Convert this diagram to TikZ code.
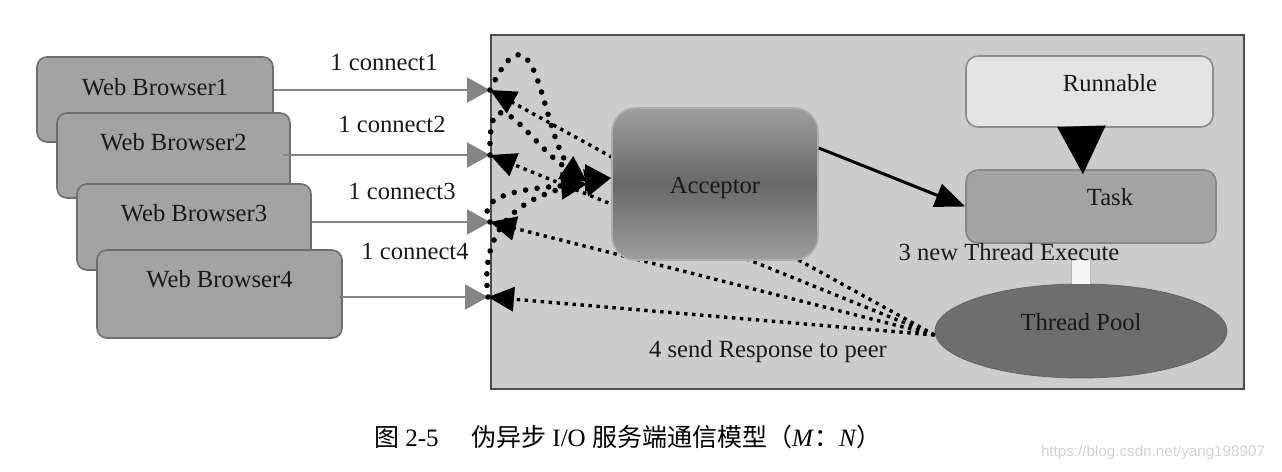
\documentclass[tikz,border=0pt]{standalone}
\usepackage{fontspec}
\setmainfont{Liberation Serif}
\newfontfamily\cjk{Noto Sans CJK SC}
\newfontfamily\wmfont{Liberation Sans}
\usepackage{tikz}
\usetikzlibrary{arrows.meta,shapes.geometric}
\definecolor{srvgray}{gray}{0.80}
\definecolor{bwgray}{gray}{0.64}
\definecolor{edgegray}{gray}{0.43}
\definecolor{acctop}{gray}{0.62}
\definecolor{accmid}{gray}{0.41}
\definecolor{runfill}{gray}{0.89}
\definecolor{taskfill}{gray}{0.64}
\definecolor{poolfill}{gray}{0.43}
\definecolor{linegray}{gray}{0.52}

\tikzset{
  lbl/.style={font=\fontsize{12.3}{14}\selectfont, text=black!90},
  browser/.style={draw=edgegray, fill=bwgray, rounded corners=5pt, line width=0.8pt},
  server/.style={draw=gray!60!black, fill=srvgray, line width=1pt},
  inbox/.style={rounded corners=6pt, line width=0.8pt},
  connect/.style={-{Triangle[length=11.5pt,width=12.5pt]}, linegray, line width=1pt},
  resp/.style={-{Triangle[length=13pt,width=12pt]}, black, line width=1.7pt, dash pattern=on 1.7pt off 2.3pt},
  fwd/.style={-{Triangle[length=13pt,width=13pt]}, black, line width=2.8pt, line cap=round, dash pattern=on 0pt off 5.8pt},
}

\begin{document}
\begin{tikzpicture}[x=0.5pt,y=-0.5pt]
\useasboundingbox (0,0) rectangle (1282,472);

% server side
\node[server, minimum width=376.5pt, minimum height=177pt] (srv) at (867.5,212) {};
\coordinate (e1) at (490,90);
\coordinate (e2) at (490,155);
\coordinate (e3) at (490,222);
\coordinate (e4) at (488,297);

% clients
\node[browser, minimum width=118pt, minimum height=42.5pt] (wb1) at (155,99.5) {};
\node[lbl] (wb1t) at ([yshift=6.25pt]wb1.center) {Web Browser1};
\node[browser, minimum width=116.5pt, minimum height=42.5pt] (wb2) at (173.5,155.5) {};
\node[lbl] (wb2t) at ([yshift=6.75pt]wb2.center) {Web Browser2};
\node[browser, minimum width=117pt, minimum height=43pt] (wb3) at (194,227) {};
\node[lbl] (wb3t) at ([yshift=7pt]wb3.center) {Web Browser3};
\node[browser, minimum width=122.5pt, minimum height=44pt] (wb4) at (219.5,294) {};
\node[lbl] (wb4t) at ([yshift=7.5pt]wb4.center) {Web Browser4};

\draw[connect] (wb1.east |- e1) -- (e1);
\draw[connect] ([xshift=-4pt]wb2.east |- e2) -- (e2);
\draw[connect] (wb3.east |- e3) -- (e3);
\draw[connect] ([xshift=-2pt]wb4.east |- e4) -- (e4);
\node[lbl] (c1) at (384,62) {1 connect1};
\node[lbl] (c2) at (392,124) {1 connect2};
\node[lbl] (c3) at (402,191) {1 connect3};
\node[lbl] (c4) at (415,251) {1 connect4};

% thread pool and responses
\node[ellipse, fill=poolfill, draw=poolfill!90!black, minimum width=146pt, minimum height=47pt] (tp) at (1081,331) {};
\node[lbl] (tpt) at ([yshift=4.5pt]tp.center) {Thread Pool};
\draw[resp] ([yshift=-2pt]tp.west) -- (e1);
\draw[resp] ([yshift=-2pt]tp.west) -- (e2);
\draw[resp] ([yshift=-2pt]tp.west) -- (e3);
\draw[resp] ([yshift=-2pt]tp.west) -- (e4);
\node[lbl] (resp) at (768,352) {4 send Response to peer};

% acceptor
\node[inbox, rounded corners=12pt, draw=gray!65, top color=acctop, bottom color=acctop, middle color=accmid,
  minimum width=103pt, minimum height=76pt] (acc) at (715,184) {};
\node[lbl] (acct) at ([yshift=-2pt]acc.center) {Acceptor};
\coordinate (ain) at ([yshift=3pt]acc.west);
\draw[fwd] (e1) .. controls +(55,-115) and +(-72,0) .. (ain);
\draw[fwd] (e2) .. controls +(-2,-90) and +(-60,-40) .. ([xshift=-12pt,yshift=-2pt]ain);
\draw[fwd] (e3) .. controls +(-15,-25) and +(-70,5) .. ([xshift=-12pt,yshift=-3pt]ain);
\draw[fwd] (e4) .. controls +(-10,-80) and +(-80,15) .. (ain);

% task side
\node[inbox, draw=gray!90, fill=runfill, minimum width=123.5pt, minimum height=35.5pt] (run) at (1089.5,91.5) {};
\node[lbl] (runt) at ([xshift=10.25pt,yshift=4.25pt]run.center) {Runnable};
\node[inbox, draw=gray!95, fill=taskfill, minimum width=125pt, minimum height=36.5pt] (task) at (1091,206.5) {};
\node[lbl] (taskt) at ([xshift=9.5pt,yshift=4.75pt]task.center) {Task};
\draw[gray!55, double=gray!8, double distance=9pt, line width=0.6pt] ([yshift=-8pt]tp.north |- task.south) -- (tp.north);
\node[lbl] (exec) at (1009,252) {3 new Thread Execute};
\draw[-{Triangle[length=24pt,width=24pt,black]}, gray, line width=1pt] ([xshift=-4pt]run.south) -- ([xshift=-4pt,yshift=-2.5pt]task.north);
\draw[-{Triangle[length=15pt,width=12pt]}, black, line width=1.5pt] ([yshift=18pt]acc.east) -- (task.west);

% caption
\node[font=\fontsize{12.5}{14}\selectfont] (cap) at (628,437)
  {{\cjk 图}~2-5\hspace{1.3em}{\cjk 伪异步}~I/O~{\cjk 服务端通信模型（}\textit{M}{\cjk ：}\textit{N}{\cjk ）}};
\node[font=\wmfont\fontsize{7.6}{9}\selectfont, text=gray!35] (wm) at (1153,453) {https://blog.csdn.net/yang198907};
\end{tikzpicture}
\end{document}
